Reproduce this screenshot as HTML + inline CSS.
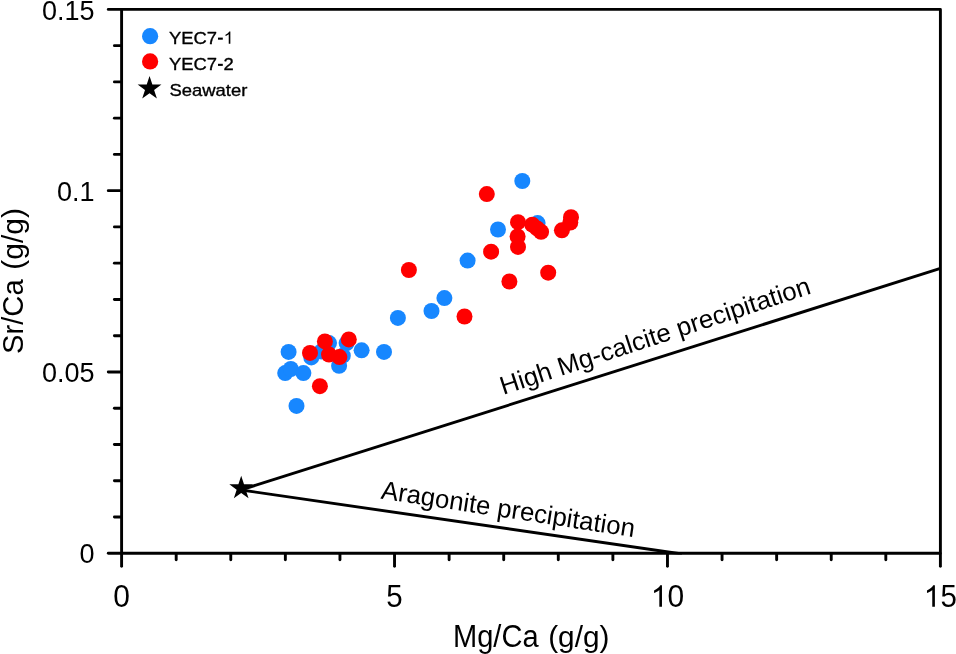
<!DOCTYPE html>
<html><head><meta charset="utf-8"><title>Sr/Ca vs Mg/Ca</title>
<style>html,body{margin:0;padding:0;background:#fff;}body{width:956px;height:654px;overflow:hidden;}svg{display:block;}text{font-family:"Liberation Sans",sans-serif;fill:#000;}svg{will-change:transform;}</style>
</head><body>
<svg width="956" height="654" viewBox="0 0 956 654">
<defs><clipPath id="cl"><rect x="0" y="0" width="956" height="554.6"/></clipPath></defs>
<rect x="0" y="0" width="956" height="654" fill="#ffffff"/>
<g stroke="#000" stroke-width="2.90" stroke-linecap="round" fill="none">
<rect x="121.60" y="9.40" width="818.80" height="543.80" stroke-linejoin="round"/>
<line x1="108.30" y1="553.20" x2="121.00" y2="553.20"/>
<line x1="114.40" y1="516.95" x2="121.00" y2="516.95"/>
<line x1="114.40" y1="480.69" x2="121.00" y2="480.69"/>
<line x1="114.40" y1="444.44" x2="121.00" y2="444.44"/>
<line x1="114.40" y1="408.19" x2="121.00" y2="408.19"/>
<line x1="108.30" y1="371.93" x2="121.00" y2="371.93"/>
<line x1="114.40" y1="335.68" x2="121.00" y2="335.68"/>
<line x1="114.40" y1="299.43" x2="121.00" y2="299.43"/>
<line x1="114.40" y1="263.17" x2="121.00" y2="263.17"/>
<line x1="114.40" y1="226.92" x2="121.00" y2="226.92"/>
<line x1="108.30" y1="190.67" x2="121.00" y2="190.67"/>
<line x1="114.40" y1="154.41" x2="121.00" y2="154.41"/>
<line x1="114.40" y1="118.16" x2="121.00" y2="118.16"/>
<line x1="114.40" y1="81.91" x2="121.00" y2="81.91"/>
<line x1="114.40" y1="45.65" x2="121.00" y2="45.65"/>
<line x1="108.30" y1="9.40" x2="121.00" y2="9.40"/>
<line x1="121.60" y1="553.80" x2="121.60" y2="566.30"/>
<line x1="176.19" y1="553.80" x2="176.19" y2="559.70"/>
<line x1="230.77" y1="553.80" x2="230.77" y2="559.70"/>
<line x1="285.36" y1="553.80" x2="285.36" y2="559.70"/>
<line x1="339.95" y1="553.80" x2="339.95" y2="559.70"/>
<line x1="394.53" y1="553.80" x2="394.53" y2="566.30"/>
<line x1="449.12" y1="553.80" x2="449.12" y2="559.70"/>
<line x1="503.71" y1="553.80" x2="503.71" y2="559.70"/>
<line x1="558.29" y1="553.80" x2="558.29" y2="559.70"/>
<line x1="612.88" y1="553.80" x2="612.88" y2="559.70"/>
<line x1="667.47" y1="553.80" x2="667.47" y2="566.30"/>
<line x1="722.05" y1="553.80" x2="722.05" y2="559.70"/>
<line x1="776.64" y1="553.80" x2="776.64" y2="559.70"/>
<line x1="831.23" y1="553.80" x2="831.23" y2="559.70"/>
<line x1="885.81" y1="553.80" x2="885.81" y2="559.70"/>
<line x1="940.40" y1="553.80" x2="940.40" y2="566.30"/>
<line x1="241.2" y1="489.8" x2="940.4" y2="268.4" stroke-linecap="butt"/>
<line x1="241.2" y1="490.0" x2="682.0" y2="554.04" stroke-linecap="butt" clip-path="url(#cl)"/>
</g>
<text x="94.5" y="563.20" font-size="27" text-anchor="end">0</text>
<text x="94.5" y="381.93" font-size="27" text-anchor="end">0.05</text>
<text x="94.5" y="200.67" font-size="27" text-anchor="end">0.1</text>
<text x="94.5" y="19.80" font-size="27" text-anchor="end">0.15</text>
<text transform="translate(113.26,606.70) scale(0.955,1)" font-size="31.4">0</text>
<text transform="translate(386.19,606.70) scale(0.955,1)" font-size="30.9">5</text>
<path transform="translate(650.79,606.70) scale(0.01465,-0.01465)" d="M763 0H583V1147Q518 1085 412.5 1023T223 930V1104Q374 1175 487 1276T647 1472H763Z" fill="#000"/>
<text transform="translate(667.47,606.70) scale(0.955,1)" font-size="31.4">0</text>
<path transform="translate(923.72,606.70) scale(0.01465,-0.01465)" d="M763 0H583V1147Q518 1085 412.5 1023T223 930V1104Q374 1175 487 1276T647 1472H763Z" fill="#000"/>
<text transform="translate(940.40,606.70) scale(0.955,1)" font-size="30.9">5</text>
<text x="453.0" y="646.9" font-size="30.6" textLength="85.6" lengthAdjust="spacingAndGlyphs">Mg/Ca</text>
<text x="548.15" y="646.9" font-size="29.3" textLength="61.3" lengthAdjust="spacingAndGlyphs">(g/g)</text>
<text transform="translate(22.9,353.9) rotate(-90)" font-size="30" textLength="74.5" lengthAdjust="spacingAndGlyphs">Sr/Ca</text>
<text transform="translate(22.6,269.7) rotate(-90)" font-size="29.3" textLength="61.7" lengthAdjust="spacingAndGlyphs">(g/g)</text>
<text transform="translate(503.2,394.9) rotate(-18.2)" font-size="25.6" textLength="325.3" lengthAdjust="spacingAndGlyphs">High Mg-calcite precipitation</text>
<text transform="translate(380.2,498.4) rotate(8.7)" font-size="26.0" textLength="256.3" lengthAdjust="spacingAndGlyphs">Aragonite precipitation</text>
<g fill="#1787ff">
<circle cx="288.6" cy="351.9" r="8.00"/>
<circle cx="285.2" cy="373.1" r="8.00"/>
<circle cx="290.8" cy="369.0" r="8.00"/>
<circle cx="303.4" cy="373.1" r="8.00"/>
<circle cx="296.5" cy="405.9" r="8.00"/>
<circle cx="311.3" cy="357.4" r="8.00"/>
<circle cx="329.0" cy="343.1" r="8.00"/>
<circle cx="321.4" cy="351.5" r="8.00"/>
<circle cx="339.1" cy="365.8" r="8.00"/>
<circle cx="346.6" cy="343.1" r="8.00"/>
<circle cx="342.8" cy="355.7" r="8.00"/>
<circle cx="361.6" cy="350.3" r="8.00"/>
<circle cx="384.0" cy="351.9" r="8.00"/>
<circle cx="397.9" cy="317.9" r="8.00"/>
<circle cx="431.5" cy="311.0" r="8.00"/>
<circle cx="444.4" cy="298.1" r="8.00"/>
<circle cx="467.6" cy="260.6" r="8.00"/>
<circle cx="498.0" cy="229.5" r="8.00"/>
<circle cx="522.3" cy="181.0" r="8.00"/>
<circle cx="537.6" cy="223.1" r="8.00"/>
</g>
<g fill="#ff0000">
<circle cx="310.0" cy="352.9" r="8.00"/>
<circle cx="324.9" cy="341.4" r="8.00"/>
<circle cx="329.0" cy="354.6" r="8.00"/>
<circle cx="339.4" cy="357.1" r="8.00"/>
<circle cx="348.8" cy="339.4" r="8.00"/>
<circle cx="319.9" cy="386.2" r="8.00"/>
<circle cx="408.9" cy="270.0" r="8.00"/>
<circle cx="464.5" cy="316.5" r="8.00"/>
<circle cx="486.8" cy="194.1" r="8.00"/>
<circle cx="491.1" cy="251.7" r="8.00"/>
<circle cx="509.4" cy="281.5" r="8.00"/>
<circle cx="518.0" cy="222.2" r="8.00"/>
<circle cx="517.6" cy="236.4" r="8.00"/>
<circle cx="518.0" cy="246.9" r="8.00"/>
<circle cx="532.3" cy="224.7" r="8.00"/>
<circle cx="537.1" cy="228.4" r="8.00"/>
<circle cx="541.1" cy="231.8" r="8.00"/>
<circle cx="548.2" cy="272.7" r="8.00"/>
<circle cx="561.9" cy="230.3" r="8.00"/>
<circle cx="570.3" cy="222.5" r="8.00"/>
<circle cx="571.0" cy="217.2" r="8.00"/>
</g>
<polygon points="241.20,475.70 244.01,484.34 253.09,484.34 245.74,489.68 248.55,498.31 241.20,492.97 233.85,498.31 236.66,489.68 229.31,484.34 238.39,484.34" fill="#000"/>
<circle cx="150.1" cy="36.15" r="8.1" fill="#1787ff"/>
<circle cx="150.1" cy="61.4" r="8.1" fill="#ff0000"/>
<polygon points="149.55,75.90 152.36,84.54 161.44,84.54 154.09,89.88 156.90,98.51 149.55,93.18 142.20,98.51 145.01,89.88 137.66,84.54 146.74,84.54" fill="#000"/>
<g stroke="#000" stroke-width="0.35" stroke-linejoin="round">
<text x="169.00" y="43.8" font-size="17.4" textLength="48.1" lengthAdjust="spacingAndGlyphs">YEC7</text>
<rect x="218.0" y="37.60" width="4.8" height="2.1" stroke="none"/>
<path transform="translate(223.50,43.8) scale(0.00898,-0.00830)" d="M763 0H583V1147Q518 1085 412.5 1023T223 930V1104Q374 1175 487 1276T647 1472H763Z" fill="#000"/>
<text x="169.00" y="70.0" font-size="17.4" textLength="48.1" lengthAdjust="spacingAndGlyphs">YEC7</text>
<rect x="218.0" y="63.80" width="4.8" height="2.1" stroke="none"/>
<text x="223.50" y="70.0" font-size="17.4" textLength="10.23" lengthAdjust="spacingAndGlyphs">2</text>
<text x="169.5" y="96.4" font-size="17.0" textLength="77.9" lengthAdjust="spacingAndGlyphs">Seawater</text>
</g>
</svg></body></html>
